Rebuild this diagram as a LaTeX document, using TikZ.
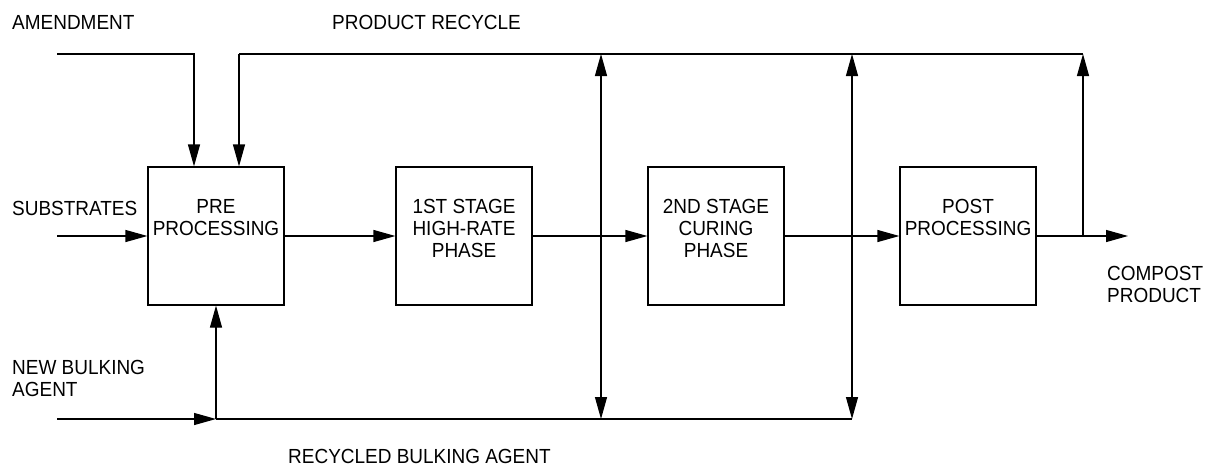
\documentclass[tikz,border=0pt]{standalone}
\usepackage{fontspec}
\setmainfont[FakeStretch=0.93]{Liberation Sans}
\usetikzlibrary{arrows.meta}
\tikzset{
  box/.style={draw, line width=1.2pt, minimum width=136pt, minimum height=138pt, inner sep=0pt},
  lbl/.style={font=\fontsize{20.4}{22.5}\selectfont, align=left, inner sep=0pt},
  boxtxt/.style={font=\fontsize{20.4}{22}\selectfont, align=center, inner sep=0pt, anchor=north},
  flow/.style={line width=1.2pt},
  arr/.style={flow, -{Triangle[length=22pt, width=12pt]}},
  darr/.style={flow, {Triangle[length=22pt, width=12pt]}-{Triangle[length=22pt, width=12pt]}},
}
\begin{document}
\begin{tikzpicture}[x=1pt, y=-1pt]
\useasboundingbox (0,0) rectangle (1209,467);

% boxes
\node[box] (pre)  at (216,236) {};
\node[box] (s1)   at (464,236) {};
\node[box] (s2)   at (716,236) {};
\node[box] (post) at (968,236) {};

\node[boxtxt] (pretxt)  at ([yshift=-33pt]pre.north)  {PRE\\PROCESSING};
\node[boxtxt] (s1txt)   at ([yshift=-33pt]s1.north)   {1ST STAGE\\HIGH-RATE\\PHASE};
\node[boxtxt] (s2txt)   at ([yshift=-33pt]s2.north)   {2ND STAGE\\CURING\\PHASE};
\node[boxtxt] (posttxt) at ([yshift=-33pt]post.north) {POST\\PROCESSING};

% labels
\node[lbl, anchor=west] (amend) at (12,22) {AMENDMENT};
\node[lbl, anchor=west] (prodrec) at (332,22) {PRODUCT RECYCLE};
\node[lbl, anchor=west] (subs) at (12,208) {SUBSTRATES};
\node[lbl, anchor=north west] (newbulk) at (12,360) {NEW BULKING\\AGENT};
\node[lbl, anchor=west] (recbulk) at (288,456) {RECYCLED BULKING AGENT};
\node[lbl, anchor=north west] (compost) at (1107,266) {COMPOST\\PRODUCT};

% coordinates
\coordinate (subsin) at (57,236);
\coordinate (amendin) at (57,54);
\coordinate (bulkin) at (57,419);
\coordinate (bj) at (216,419);
\coordinate (out) at (1128,236);
\coordinate (pj) at (1083,236);
\coordinate (ptop) at (1083,54);
\coordinate (a1) at (601,54);
\coordinate (a1b) at (601,419);
\coordinate (a2) at (852,54);
\coordinate (a2b) at (852,419);
\coordinate (rtop) at (239,54);

% main flow
\draw[arr] (subsin) -- (pre.west);
\draw[arr] (pre.east) -- (s1.west);
\draw[arr] (s1.east) -- (s2.west);
\draw[arr] (s2.east) -- (post.west);
\draw[arr] (post.east) -- (out);

% amendment
\draw[arr] (amendin) -| ([xshift=-22pt]pre.north);

% product recycle
\draw[arr] (pj) -- (ptop);
\draw[flow] (ptop) -- (rtop);
\draw[arr] (rtop) -- (rtop |- pre.north);

% vertical recycle lines
\draw[darr] (a1) -- (a1b);
\draw[darr] (a2) -- (a2b);

% bulking agent
\draw[arr] (bulkin) -- (bj);
\draw[flow] (bj) -- (a2b);
\draw[arr] (bj) -- (pre.south);
\end{tikzpicture}
\end{document}
